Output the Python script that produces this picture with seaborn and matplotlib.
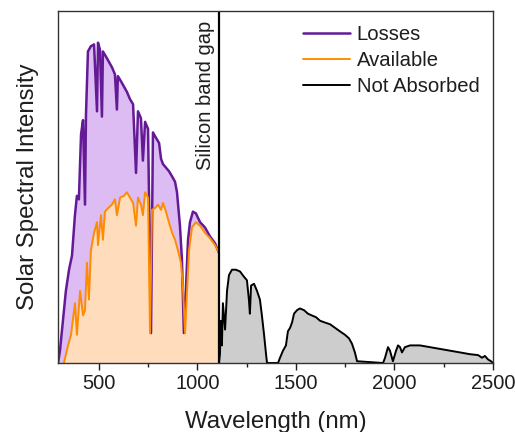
import matplotlib
matplotlib.use("Agg")
import matplotlib.pyplot as plt
import seaborn as sns
import numpy as np

# ---- data ----
loss_wl = [292, 302, 317, 332, 348, 363, 378, 388, 398, 409, 419, 429, 434, 444, 459, 475,
           490, 495, 505, 515, 520, 536, 551, 566, 581, 591, 596, 612, 627, 642, 657, 673,
           688, 698, 713, 723, 734, 749, 764, 774, 789, 805, 815, 825, 840, 855, 871, 886,
           896, 911, 921, 931, 942, 952, 962, 977, 992, 1013, 1038, 1063, 1089, 1104, 1107]
loss_val = [0.00, 0.07, 0.24, 0.41, 0.53, 0.61, 0.84, 0.95, 0.93, 1.30, 1.38, 0.90, 1.41, 1.77, 1.80, 1.81,
            1.43, 1.82, 1.78, 1.40, 1.77, 1.74, 1.71, 1.68, 1.64, 1.44, 1.63, 1.60, 1.57, 1.54, 1.50, 1.47,
            1.08, 1.43, 1.39, 1.15, 1.37, 1.33, 0.17, 1.31, 1.28, 1.25, 1.16, 1.13, 1.11, 1.09, 1.06, 1.03,
            0.97, 0.78, 0.59, 0.17, 0.44, 0.70, 0.80, 0.86, 0.85, 0.80, 0.77, 0.72, 0.68, 0.64, 0.63]

avail_wl = [322, 343, 358, 378, 388, 404, 419, 429, 439, 449, 459, 475, 490, 495, 510, 520,
            530, 546, 566, 581, 591, 607, 627, 642, 657, 673, 688, 698, 713, 723, 734, 749,
            759, 769, 784, 800, 815, 825, 840, 855, 871, 886, 901, 916, 926, 937, 947, 957,
            972, 992, 1013, 1038, 1063, 1089, 1104, 1107]
avail_val = [0.00, 0.10, 0.16, 0.34, 0.16, 0.41, 0.27, 0.30, 0.57, 0.36, 0.64, 0.74, 0.80, 0.67, 0.84, 0.70,
             0.86, 0.88, 0.90, 0.93, 0.84, 0.94, 0.95, 0.97, 0.94, 0.91, 0.78, 0.94, 0.90, 0.84, 0.97, 0.94,
             0.17, 0.87, 0.88, 0.90, 0.87, 0.91, 0.86, 0.80, 0.74, 0.70, 0.64, 0.57, 0.44, 0.17, 0.41, 0.64,
             0.77, 0.80, 0.78, 0.74, 0.71, 0.67, 0.64, 0.63]

notabs_wl = [1109, 1114, 1119, 1124, 1129, 1140, 1150, 1160, 1175, 1195, 1216, 1236, 1251, 1261,
             1266, 1272, 1287, 1302, 1317, 1327, 1338, 1348, 1353, 1409, 1419, 1434, 1449, 1459,
             1470, 1480, 1490, 1505, 1520, 1541, 1561, 1581, 1602, 1622, 1647, 1673, 1698, 1723,
             1749, 1769, 1784, 1799, 1810, 1942, 1952, 1967, 1977, 1992, 2008, 2018, 2028, 2038,
             2053, 2079, 2129, 2180, 2231, 2282, 2333, 2383, 2424, 2444, 2459, 2475, 2490, 2500]
notabs_val = [0.00, 0.05, 0.24, 0.10, 0.34, 0.19, 0.41, 0.50, 0.53, 0.53, 0.52, 0.49, 0.47, 0.36,
              0.28, 0.44, 0.45, 0.41, 0.36, 0.27, 0.16, 0.05, 0.00, 0.00, 0.03, 0.07, 0.10, 0.18,
              0.20, 0.23, 0.28, 0.30, 0.31, 0.30, 0.28, 0.27, 0.26, 0.24, 0.23, 0.22, 0.20, 0.18,
              0.16, 0.14, 0.11, 0.06, 0.01, 0.00, 0.03, 0.09, 0.07, 0.01, 0.07, 0.10, 0.09, 0.06,
              0.09, 0.10, 0.10, 0.09, 0.08, 0.07, 0.06, 0.05, 0.045, 0.03, 0.04, 0.02, 0.01, 0.00]

band_gap = 1107
series_labels = ["Losses", "Available", "Not Absorbed"]
x_ticks = [500, 1000, 1500, 2000, 2500]

# ---- style ----
sns.set_style("ticks")
plt.rcParams['font.family'] = ['Liberation Sans', 'DejaVu Sans']
text_col = "#1e1e1e"
plt.rcParams['text.color'] = text_col
plt.rcParams['axes.labelcolor'] = text_col
plt.rcParams['xtick.color'] = text_col

fig = plt.figure(figsize=(5.15, 4.32), dpi=100)
ax = fig.add_axes([58/515, 69/432, 435/515, 352/432])

purple = "#641a96"
purple_fill = "#dcbcf2"
orange = "#ff8c00"
orange_fill = "#ffdcbc"
grey_fill = "#cdcdcd"

ax.fill_between(loss_wl, loss_val, 0, color=purple_fill, lw=0)
ax.fill_between(avail_wl, avail_val, 0, color=orange_fill, lw=0)
ax.fill_between(notabs_wl, notabs_val, 0, color=grey_fill, lw=0)

sns.lineplot(x=loss_wl, y=loss_val, ax=ax, color=purple, lw=1.8, label=series_labels[0])
sns.lineplot(x=avail_wl, y=avail_val, ax=ax, color=orange, lw=1.4, label=series_labels[1])
sns.lineplot(x=notabs_wl, y=notabs_val, ax=ax, color="black", lw=1.4, label=series_labels[2])

ax.axvline(band_gap, color="black", lw=1.6)
ax.text(1088, 0.972, "Silicon band gap", rotation=90, ha="right", va="top",
        fontsize=14.5, transform=ax.get_xaxis_transform())

ax.set_xlim(292, 2500)
ax.set_ylim(0, 2.0)
ax.set_xticks(x_ticks)
ax.set_xticks([750, 1250, 1750, 2250], minor=True)
ax.set_yticks([])
ax.tick_params(axis="x", which="major", length=5, width=1, direction="out", labelsize=14.5, pad=3)
ax.tick_params(axis="x", which="minor", length=3, width=1, direction="out")
for s in ax.spines.values():
    s.set_visible(True)
    s.set_color("#333333")
    s.set_linewidth(1.0)

ax.set_xlabel("Wavelength (nm)", fontsize=17.3, labelpad=13)
ax.set_ylabel("Solar Spectral Intensity", fontsize=17.3, labelpad=14)

ax.legend(loc="upper left", bbox_to_anchor=(0.563, 0.959), frameon=False,
          fontsize=14.6, handlelength=2.3, handletextpad=0.35, labelspacing=0.33,
          borderaxespad=0, borderpad=0)

fig.savefig("out.png", dpi=100)
